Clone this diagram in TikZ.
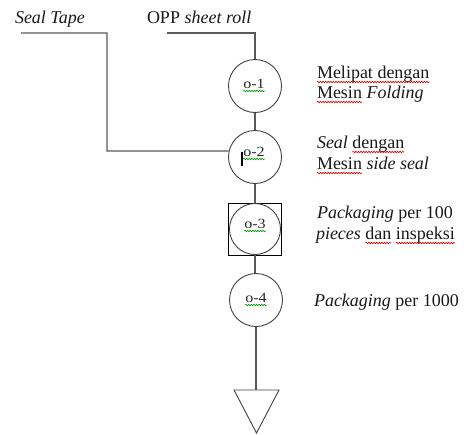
\documentclass[tikz,border=0pt]{standalone}
\usepackage{fontspec}
\setmainfont{Liberation Serif}
\usetikzlibrary{decorations.pathmorphing}
\begin{document}
\begin{tikzpicture}[x=1pt,y=-1pt,
  flow/.style={draw=black!65, line width=1.3pt},
  op/.style={circle, draw=black!75, line width=0.9pt, minimum size=53pt, inner sep=0pt},
  insp/.style={rectangle, draw=black, line width=0.9pt, minimum width=53pt, minimum height=52pt, inner sep=0pt},
  txt/.style={anchor=base west, inner sep=0pt, outer sep=0pt, font=\fontsize{18}{21}\selectfont, text=black!90},
  tag/.style={anchor=base, inner sep=0pt, outer sep=0pt, font=\fontsize{14}{16}\selectfont, text=black!85, xscale=1.15},
  spell/.style={draw=red!85!black, line width=0.65pt, decorate,
                decoration={snake, amplitude=0.75pt, segment length=2.6pt}},
  gram/.style={spell, draw=green!60!black},
]
\useasboundingbox (0,0) rectangle (466,434);

% operations
\node[op] (o1) at (255,86) {};
\node[op] (o2) at (255,157) {};
\node[insp] (sq) at (255,229) {};
\node[op, minimum size=51pt] (o3) at (255,229) {};
\node[op] (o4) at (256,300) {};

% storage triangle
\coordinate (ta) at (234,390);
\coordinate (tb) at (279,390);
\coordinate (tc) at (256.5,433);
\coordinate (tt) at (256,390);
\draw[draw=black!75, line width=0.9pt] (ta) -- (tb) -- (tc) -- cycle;

% inputs
\node[txt] (st) at (15,23) {\textit{Seal Tape}};
\node[txt] (opp) at (147,23) {OPP \textit{sheet roll}};
\coordinate (s0) at (21,33);
\coordinate (s1) at (107,33);
\coordinate (s2) at (107,151);
\coordinate (p0) at (167,33);
\coordinate (p1) at (255,33);
\draw[flow] (s0) -- (s1) -- (s2) -- (o2.167);
\draw[flow] (p0) -- (p1) -- (o1.north);

% main flow
\draw[flow] (o1.south) -- (o2.north);
\draw[flow] (o2.south) -- (sq.north);
\draw[flow] (sq.south) -- (sq.south |- o4.north);
\draw[flow] (o4.south) -- (tt);

% operation tags
\node[tag] (t1) at (254,88) {o-1};
\node[tag] (t2) at (254,156) {o-2};
\node[tag] (t3) at (255,228) {o-3};
\node[tag] (t4) at (256,302) {o-4};
\foreach \t in {t1,t2,t3,t4}
  \draw[gram] ([yshift=-3pt]\t.base west) -- ([yshift=-3pt]\t.base east);

% text cursor
\draw[line width=1.8pt, black] (242,152) -- (242,166);

% descriptions
\node[txt] (a1) at (317,78) {Melipat dengan};
\node[txt] (a2) at (317,98) {Mesin};
\node[txt] (a2b) at ([xshift=4.5pt]a2.base east) {\textit{Folding}};
\node[txt] (a3) at (317,148) {\textit{Seal}};
\node[txt] (a3b) at ([xshift=4.5pt]a3.base east) {dengan};
\node[txt] (a4) at (317,169) {Mesin};
\node[txt] (a4b) at ([xshift=4.5pt]a4.base east) {\textit{side seal}};
\node[txt] (a5) at (317,218) {\textit{Packaging} per 100};
\node[txt] (a6) at (316,239) {\textit{pieces}};
\node[txt] (a6b) at ([xshift=4.5pt]a6.base east) {dan};
\node[txt] (a6c) at ([xshift=4.5pt]a6b.base east) {inspeksi};
\node[txt] (a7) at (314,306) {\textit{Packaging} per 1000};

\foreach \w in {a1,a2,a3b,a4,a6b,a6c}
  \draw[spell] ([yshift=-4pt]\w.base west) -- ([yshift=-4pt]\w.base east);
\end{tikzpicture}
\end{document}
